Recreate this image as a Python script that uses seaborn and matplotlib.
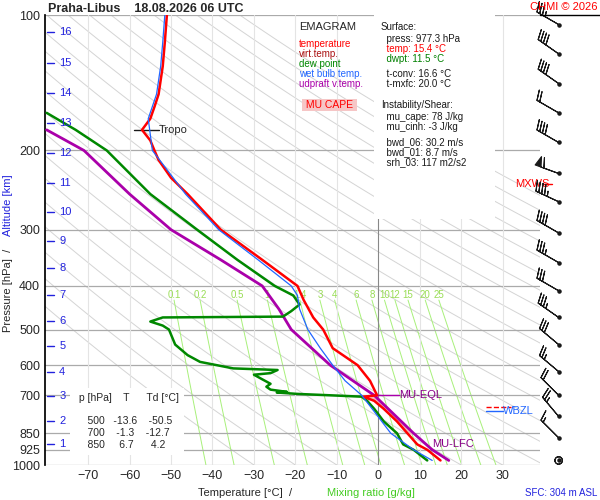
import numpy as np
import pandas as pd
import matplotlib
matplotlib.use('Agg')
import matplotlib.pyplot as plt
import seaborn as sns

# profile data
p_temp = [977, 925, 900, 850, 800, 750, 720, 705, 700, 650, 600, 550, 500, 470, 430, 400,
          350, 300, 250, 230, 210, 200, 190, 180, 170, 160, 150, 130, 115, 100]
t_temp = [15.0, 11.8, 9.4, 7.0, 4.5, 1.3, -1.0, -3.6, -0.3, -2.0, -5.0, -11.0, -13.3, -15.7,
          -18.0, -19.5, -28.0, -38.0, -46.0, -50.0, -53.0, -54.0, -55.0, -57.0, -55.0, -54.0,
          -53.0, -52.0, -51.5, -51.0]
p_dew = [977, 925, 900, 850, 800, 750, 720, 705, 700, 695, 690, 688, 680, 670, 660, 645, 630,
         625, 615, 610, 590, 570, 540, 500, 490, 480, 470, 468, 455, 440, 420, 400, 350, 300,
         250, 200, 180, 165]
t_dew = [11.8, 8.5, 6.0, 4.5, 1.3, -1.0, -2.7, -4.0, -11.6, -19.6, -24.5, -22.0, -26.0, -27.0,
         -26.0, -28.0, -30.0, -26.0, -24.3, -35.0, -43.0, -46.0, -49.0, -50.5, -52.0, -55.0,
         -52.0, -23.0, -21.0, -19.0, -20.5, -25.0, -34.0, -43.7, -55.0, -65.5, -73.0, -80.0]
p_wet = [977, 925, 850, 750, 700, 650, 600, 550, 500, 450, 420, 400, 350, 300, 250, 200, 170,
         150, 130, 115, 100]
t_wet = [13.0, 8.5, 3.0, -1.5, -4.0, -8.0, -11.0, -14.0, -17.0, -19.0, -19.5, -21.0, -29.0,
         -38.5, -46.5, -54.5, -55.5, -53.5, -52.5, -52.0, -51.5]
p_parc = [977, 925, 850, 700, 600, 500, 450, 400, 350, 300, 250, 200, 180]
t_parc = [17.0, 13.0, 8.5, -1.0, -11.6, -21.0, -24.0, -28.0, -38.0, -50.0, -60.0, -71.0, -80.0]

p_ticks = [100, 200, 300, 400, 500, 600, 700, 850, 925, 1000]
t_ticks = [-70, -60, -50, -40, -30, -20, -10, 0, 10, 20, 30]
km_labels = list(range(1, 17))
p_km = [900, 797, 702, 621, 544, 478, 420, 365, 318, 274, 236, 203, 174, 149, 128, 109]
mix_ratios = [0.1, 0.2, 0.5, 1, 2, 3, 4, 6, 8, 10, 12, 15, 20, 25]
mix_labels = ['0.1', '0.2', '0.5', '1', '1.4', '3', '4', '6', '8', '10', '12', '15', '20', '25']
wind_p = [105, 122, 142, 165, 192, 225, 260, 305, 355, 410, 470, 540, 620, 700, 780, 870, 977]
wind_spd = [35, 40, 40, 20, 40, 60, 45, 40, 35, 30, 35, 30, 25, 20, 25, 15, 0]
wind_dir = [300, 305, 305, 300, 300, 290, 295, 300, 300, 300, 305, 310, 310, 315, 320, 315, 0]

sns.set_theme(style="white")
plt.rcParams['font.family'] = ['Liberation Sans', 'DejaVu Sans']

fig = plt.figure(figsize=(6, 5), dpi=100)
ax = fig.add_axes([0.075, 0.07, 0.825, 0.90])
ax.set_yscale('log')
ax.set_ylim(1000, 100)
ax.set_xlim(-80.4, 39)

# dry adiabats
pp = np.geomspace(100, 1000, 60)
for th in range(-30, 200, 10):
    ax.plot((th + 273.15) * (pp / 1000) ** 0.286 - 273.15, pp, color='#d4d4d4', lw=0.7, zorder=1)

# saturation mixing ratio lines
pm = np.geomspace(430, 1000, 40)
for r, lab in zip(mix_ratios, mix_labels):
    e = r * pm / (622 + r)
    td = 243.5 * np.log(e / 6.112) / (17.67 - np.log(e / 6.112))
    ax.plot(td, pm, color='#a8f07a', lw=0.7, zorder=1)
    ax.text(td[0], 418, lab, color='#99dd55', fontsize=7, ha='center', va='center')

for p in p_ticks:
    ax.axhline(p, color='#aaaaaa', lw=0.9, zorder=1)
for t in t_ticks:
    ax.axvline(t, color='#888888' if t == 0 else '#e4e4e4', lw=0.8, zorder=1)
fig.add_artist(plt.Line2D([0.9, 1.0], [0.97, 0.97], color='black', lw=1))

# CAPE shading
ax.fill_betweenx([700, 705, 720, 750, 800, 850], [-0.3, -3.6, -1.0, 1.3, 4.5, 7.0],
                 [-0.8, -0.5, 0.5, 2.5, 5.2, 8.0], color='#f4b8b8', zorder=2)

df = pd.concat([
    pd.DataFrame({'T': t_parc, 'p': p_parc, 's': 'parcel'}),
    pd.DataFrame({'T': t_dew, 'p': p_dew, 's': 'dew'}),
    pd.DataFrame({'T': t_wet, 'p': p_wet, 's': 'wet'}),
    pd.DataFrame({'T': t_temp, 'p': p_temp, 's': 'temp'}),
])
pal = {'parcel': '#aa00aa', 'dew': '#008800', 'wet': '#2266ff', 'temp': '#ff0000'}
widths = {'parcel': 2.0, 'dew': 1.8, 'wet': 0.9, 'temp': 1.8}
for s in ['parcel', 'dew', 'temp', 'wet']:
    sns.lineplot(data=df[df.s == s], x='T', y='p', sort=False, estimator=None, color=pal[s],
                 lw=widths[s], ax=ax, legend=False, zorder=3)

ax.set_yticks(p_ticks)
ax.set_yticklabels([str(p) for p in p_ticks])
ax.minorticks_off()
ax.set_xticks(t_ticks)
ax.tick_params(labelsize=9, length=0)
ax.set_xlabel('')
ax.set_ylabel('')
for sp in ['top', 'right', 'bottom']:
    ax.spines[sp].set_visible(False)
ax.spines['left'].set_color('black')

for k, p in zip(km_labels, p_km):
    ax.text(-77.0, p, str(k), color='#2222dd', fontsize=8, va='center')
    ax.plot([-80, -78.3], [p, p], color='#2222dd', lw=1)

# wind barbs
wd = np.radians(wind_dir)
u = -np.array(wind_spd) * np.sin(wd)
v = -np.array(wind_spd) * np.cos(wd)
ax.barbs([43.5] * len(wind_p), wind_p, u, v, length=6, lw=0.8, clip_on=False, zorder=4)
ax.scatter([43.5] * len(wind_p), wind_p, s=5, color='k', clip_on=False, zorder=4)

# annotations
ax.plot([-59, -53], [180, 180], color='k', lw=1)
ax.text(-53, 180, 'Tropo', fontsize=8, va='center')
ax.text(5, 700, 'MU-EQL', color='#880088', fontsize=8, va='center')
ax.plot([-2, 5], [700, 700], color='#aa00aa', lw=1)
ax.text(13, 900, 'MU-LFC', color='#880088', fontsize=8, va='center')
ax.text(30, 760, 'WBZL', color='#2266ff', fontsize=8, va='center')
ax.plot([26, 30], [760, 760], color='#2266ff', lw=1)
ax.plot([26, 32], [745, 745], color='red', lw=1, ls='--')
ax.text(33, 237, 'MXWS', color='red', fontsize=8, va='center')
ax.plot([39.5, 42], [237, 237], color='red', lw=1, clip_on=False)

ax.text(-73, 800, ' p [hPa]    T      Td [°C]\n\n    500   -13.6    -50.5\n    700    -1.3    -12.7\n    850     6.7      4.2',
        fontsize=7.5, va='center', bbox=dict(fc='white', ec='none'))

fig.text(0.498, 0.955, 'EMAGRAM', fontsize=8, va='top')
legend_items = [('temperature', '#ff0000'), ('virt.temp.', '#aa1111'), ('dew point', '#008800'),
                ('wet bulb temp.', '#2266ff'), ('udpraft v.temp.', '#aa00aa')]
for i, (lab, c) in enumerate(legend_items):
    fig.text(0.498, 0.922 - i * 0.02, lab, color=c, fontsize=7, va='top')
fig.text(0.505, 0.80, ' MU CAPE ', color='red', fontsize=7.5, va='top',
         bbox=dict(fc='#f6c6c6', ec='none', pad=1))

surf = [('Surface:', 'k', 0.955), ('  press: 977.3 hPa', 'k', 0.932), ('  temp: 15.4 °C', 'red', 0.912),
        ('  dwpt: 11.5 °C', 'green', 0.892), ('  t-conv: 16.6 °C', 'k', 0.862),
        ('  t-mxfc: 20.0 °C', 'k', 0.842), ('Instability/Shear:', 'k', 0.800),
        ('  mu_cape: 78 J/kg', 'k', 0.776), ('  mu_cinh: -3 J/kg', 'k', 0.756),
        ('  bwd_06: 30.2 m/s', 'k', 0.726), ('  bwd_01: 8.7 m/s', 'k', 0.706),
        ('  srh_03: 117 m2/s2', 'k', 0.686)]
fig.text(0.632, 0.965, ' ' * 40 + '\n' * 16, fontsize=7, va='top', bbox=dict(fc='white', ec='none'))
for s, c, y in surf:
    fig.text(0.635, y, s, color=c, fontsize=7, va='top')

fig.text(0.08, 0.995, 'Praha-Libus    18.08.2026 06 UTC', fontsize=9, fontweight='bold', va='top')
fig.text(0.995, 0.995, 'CHMI © 2026', color='red', fontsize=8, va='top', ha='right')
fig.text(0.33, 0.005, 'Temperature [°C]  /  ', fontsize=8, va='bottom')
fig.text(0.545, 0.005, 'Mixing ratio [g/kg]', color='#44cc22', fontsize=8, va='bottom')
fig.text(0.995, 0.005, 'SFC: 304 m ASL', color='#2222dd', fontsize=7, ha='right', va='bottom')
fig.text(0.005, 0.42, 'Pressure [hPa]  /', fontsize=8, rotation=90, va='center')
fig.text(0.005, 0.59, 'Altitude [km]', color='#2222dd', fontsize=8, rotation=90, va='center')

fig.savefig('out.png', dpi=100)
